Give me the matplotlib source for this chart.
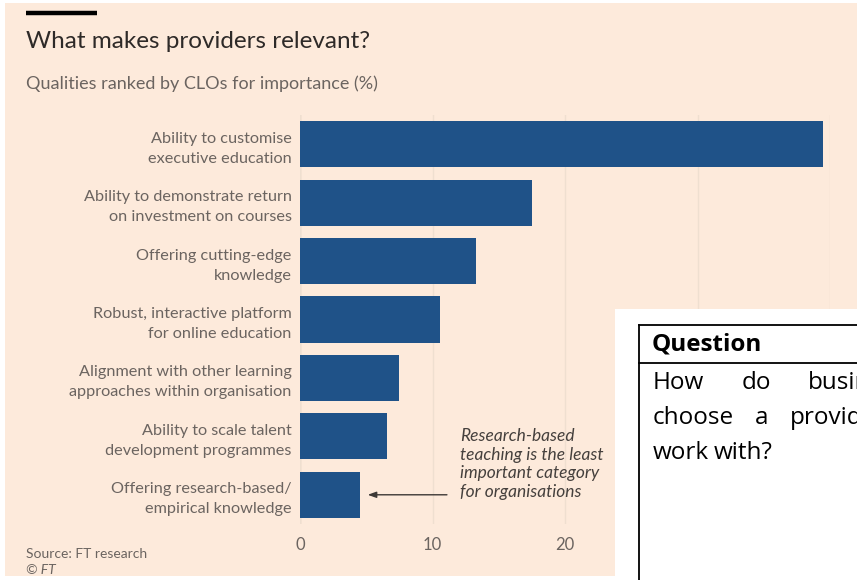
import matplotlib.pyplot as plt
from matplotlib.patches import Rectangle
from matplotlib.lines import Line2D

# qualities, top to bottom, and their share (%)
qualities = [
    "Ability to customise\nexecutive education",
    "Ability to demonstrate return\non investment on courses",
    "Offering cutting-edge\nknowledge",
    "Robust, interactive platform\nfor online education",
    "Alignment with other learning\napproaches within organisation",
    "Ability to scale talent\ndevelopment programmes",
    "Offering research-based/\nempirical knowledge",
]
importance = [39.5, 17.5, 13.3, 10.6, 7.5, 6.6, 4.5]
x_ticks = [0, 10, 20, 30, 40]

note = "Research-based\nteaching is the least\nimportant category\nfor organisations"
question_words = [
    ["How", "do", "businesses"],
    ["choose", "a", "provider", "to"],
    ["work", "with?"],
]

W, H = 857, 580
PEACH = "#fdeadb"
BLUE = "#1f5288"
GREY = "#6b6460"
GRID = "#efdfd0"

plt.rcParams["font.family"] = ["Lato", "DejaVu Sans"]

fig = plt.figure(figsize=(W / 100, H / 100), dpi=100)
fig.patch.set_facecolor("white")


def fx(px):
    return px / W


def fy(py):
    return 1 - py / H


# peach card behind the chart
fig.patches.append(Rectangle((fx(5), fy(576)), fx(852), 573 / H,
                             transform=fig.transFigure, facecolor=PEACH,
                             edgecolor="none", zorder=-2))
fig.add_artist(Line2D([fx(26), fx(97)], [fy(13), fy(13)], color="black",
                      lw=3.2, solid_capstyle="butt"))

fig.text(fx(26), fy(42), "What makes providers relevant?", fontsize=17.5,
         color="#2e2a28", va="center", ha="left")
fig.text(fx(26), fy(84), "Qualities ranked by CLOs for importance (%)",
         fontsize=13, color=GREY, va="center", ha="left")
fig.text(fx(26), fy(554), "Source: FT research", fontsize=10, color=GREY,
         va="center", ha="left")
fig.text(fx(26), fy(570), "© FT", fontsize=10, color=GREY, style="italic",
         va="center", ha="left")

ax = fig.add_axes([fx(300), fy(524), fx(530), (524 - 115) / H])
ax.set_zorder(1)
ax.set_facecolor("none")
ypos = list(range(len(qualities)))
ax.barh(ypos, importance, height=0.79, color=BLUE, zorder=3)
ax.set_xlim(0, 40)
ax.set_ylim(len(qualities) - 0.5, -0.5)
ax.set_yticks(ypos)
ax.set_yticklabels(qualities, fontsize=11.7, color=GREY, linespacing=1.55)
ax.set_xticks(x_ticks)
ax.set_xticklabels([str(t) for t in x_ticks], fontsize=12, color=GREY)
ax.tick_params(axis="y", length=0, pad=6)
ax.tick_params(axis="x", length=0, pad=9)
for s in ax.spines.values():
    s.set_visible(False)
ax.grid(axis="x", color=GRID, lw=1, zorder=0)
ax.axvline(0, color="#dccbbb", lw=1, zorder=1)

ax.annotate("", xy=(importance[-1] + 0.4, 6), xytext=(11.3, 6),
            arrowprops=dict(arrowstyle="-|>,head_length=0.5,head_width=0.18",
                            color="#3d3936", lw=1))
fig.text(fx(460), fy(464), note, fontsize=12.5, style="italic",
         color="#45403d", va="center", ha="left", linespacing=1.22)

# question box laid over the chart
fig.patches.append(Rectangle((fx(615), 0), fx(W - 615), fy(309),
                             transform=fig.transFigure, facecolor="white",
                             edgecolor="none", zorder=5))
fig.add_artist(Line2D([fx(639), fx(639)], [0, fy(325)], color="black",
                      lw=1.3, zorder=6))
fig.add_artist(Line2D([fx(639), 1], [fy(325), fy(325)], color="black",
                      lw=1.3, zorder=6))
fig.add_artist(Line2D([fx(639), 1], [fy(363), fy(363)], color="black",
                      lw=1.3, zorder=6))
fig.text(fx(652), fy(345), "Question", fontsize=17.5, fontweight="bold",
         family=["Open Sans", "DejaVu Sans"], color="black", va="center",
         ha="left", zorder=7)

word_x = [[653, 742, 808], [653, 755, 790, 905], [653, 714]]
line_y = [383, 418, 453]
for words, xs, py in zip(question_words, word_x, line_y):
    for w, px in zip(words, xs):
        fig.text(fx(px), fy(py), w, fontsize=17.5,
                 family=["Open Sans", "DejaVu Sans"], color="black",
                 va="center", ha="left", zorder=7)

fig.savefig("out.png", dpi=100, facecolor=fig.get_facecolor())
